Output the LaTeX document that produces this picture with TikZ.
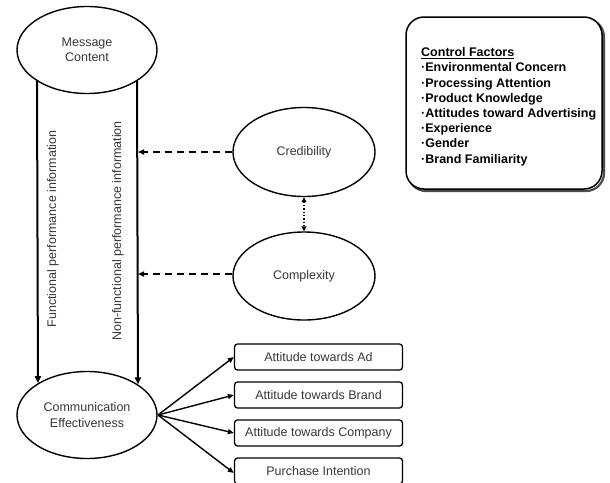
\documentclass[tikz,border=0pt]{standalone}
\usepackage{fontspec}
\setmainfont{Liberation Sans}
\usetikzlibrary{shapes.geometric,arrows.meta}
\definecolor{labelgray}{RGB}{55,55,55}
\begin{document}
\begin{tikzpicture}[x=1pt,y=-1pt,
  ell/.style={ellipse, draw, line width=1.4pt, minimum width=140pt, minimum height=87pt, inner sep=0pt, align=center, font=\fontsize{12.5}{15.5}\selectfont, text=labelgray},
  outbox/.style={rectangle, rounded corners=3pt, draw, line width=1.3pt, minimum width=168pt, minimum height=26pt, inner sep=0pt, font=\fontsize{12.5}{15}\selectfont, text=labelgray},
  mainarrow/.style={line width=2pt, -{Triangle[length=7pt,width=6pt]}},
  dasharrow/.style={line width=1.8pt, dash pattern=on 7pt off 5pt, -{Triangle[length=6pt,width=5pt]}},
  outarrow/.style={line width=1.4pt, -{Triangle[length=6pt,width=5pt]}},
  vlabel/.style={rotate=90, font=\fontsize{12.5}{15}\selectfont, text=labelgray, inner sep=0pt}
]
\useasboundingbox (0,0) rectangle (610,482);
\clip (0,0) rectangle (610,482);

% ellipses
\node[ell] (mc) at (87,50) {Message\\Content};
\node[ell] (ce) at (87,415) {Communication\\Effectiveness};
\node[ell, minimum width=142pt, minimum height=89pt] (cr) at (304,152) {Credibility};
\node[ell, minimum width=142pt, minimum height=88pt] (cx) at (304,276) {Complexity};

% vertical arrows
\draw[mainarrow] (mc.212.3) -- (ce.147.7);
\draw[mainarrow] (mc.328.7) -- (ce.31.3);
\node[vlabel] (fl) at (53,229) {Functional performance information};
\node[vlabel] (nfl) at (118,231) {Non-functional performance information};

% dashed arrows to the right line
\coordinate (d1) at (138,152);
\coordinate (d2) at (138,274);
\draw[dasharrow] (cr.west) -- (d1);
\draw[dasharrow] (cx.west |- d2) -- (d2);

% dotted double arrow
\draw[line width=1.3pt, dotted, {Triangle[length=5pt,width=5pt]}-{Triangle[length=5pt,width=5pt]}] (cr.south) -- (cx.north);

% outcome boxes
\node[outbox] (b1) at (318.5,357) {Attitude towards Ad};
\node[outbox] (b2) at (318.5,395) {Attitude towards Brand};
\node[outbox] (b3) at (318.5,433) {Attitude towards Company};
\node[outbox] (b4) at (318.5,471) {Purchase Intention};
\coordinate (src) at (158,415);
\draw[outarrow] (src) -- (b1.west);
\draw[outarrow] (src) -- (b2.west);
\draw[outarrow] (src) -- (b3.west);
\draw[outarrow] (src) -- ([yshift=-2pt]b4.west);

% control factors box
\draw[line width=2.2pt, rounded corners=18pt, draw=black!70] (408,19) rectangle (604,191);
\draw[line width=1.5pt, rounded corners=18pt, fill=white] (406,17) rectangle (602,189);
\node[anchor=north west, align=left, inner sep=0pt, font=\bfseries\fontsize{12.5}{15.2}\selectfont] (cf) at (421,47.5)
 {\underline{Control Factors}\\
  ·Environmental Concern\\
  ·Processing Attention\\
  ·Product Knowledge\\
  ·Attitudes toward Advertising\\
  ·Experience\\
  ·Gender\\
  ·Brand Familiarity};
\end{tikzpicture}
\end{document}
